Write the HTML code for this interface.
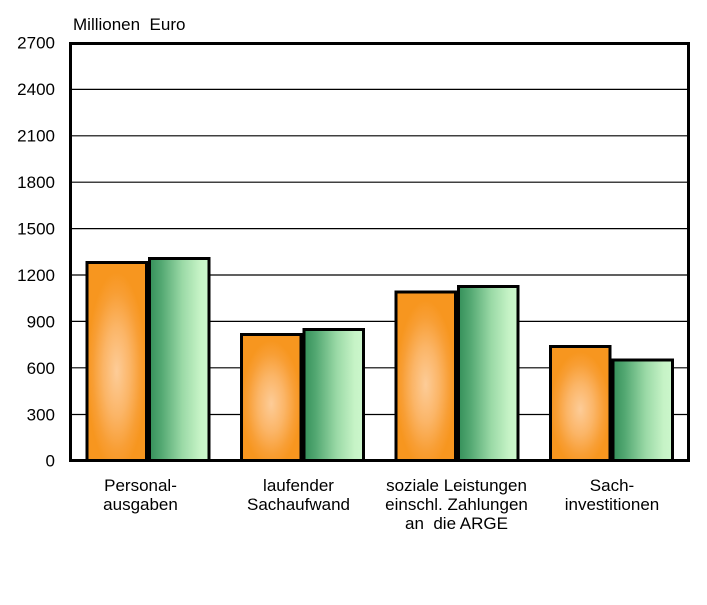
<!DOCTYPE html>
<html>
<head>
<meta charset="utf-8">
<style>
  html, body { margin: 0; padding: 0; background: #fff; }
  svg { display: block; }
  text { font-family: "Liberation Sans", Arial, sans-serif; fill: #000; }
</style>
</head>
<body>
<svg width="707" height="605" viewBox="0 0 707 605" xmlns="http://www.w3.org/2000/svg">
  <defs>
    <radialGradient id="og" cx="0.5" cy="0.55" r="0.5" fx="0.5" fy="0.55" gradientUnits="objectBoundingBox">
      <stop offset="0" stop-color="#fdcc98"/>
      <stop offset="0.45" stop-color="#fbb567"/>
      <stop offset="0.8" stop-color="#f89e34"/>
      <stop offset="1" stop-color="#f7961f"/>
    </radialGradient>
    <linearGradient id="gg" x1="0" y1="0" x2="1" y2="0">
      <stop offset="0" stop-color="#35905a"/>
      <stop offset="0.2" stop-color="#53a872"/>
      <stop offset="0.55" stop-color="#9ad9a6"/>
      <stop offset="0.85" stop-color="#c6f3c6"/>
      <stop offset="1" stop-color="#ccf7cc"/>
    </linearGradient>
  </defs>

  <rect x="0" y="0" width="707" height="605" fill="#fff"/>

  <!-- gridlines -->
  <g stroke="#000" stroke-width="1.2">
    <line x1="72" x2="687" y1="414.5" y2="414.5"/>
    <line x1="72" x2="687" y1="367.8" y2="367.8"/>
    <line x1="72" x2="687" y1="321.4" y2="321.4"/>
    <line x1="72" x2="687" y1="275" y2="275"/>
    <line x1="72" x2="687" y1="228.6" y2="228.6"/>
    <line x1="72" x2="687" y1="182.2" y2="182.2"/>
    <line x1="72" x2="687" y1="135.8" y2="135.8"/>
    <line x1="72" x2="687" y1="89.4" y2="89.4"/>
  </g>

  <!-- bars (outer edges measured; stroke 3) -->
  <g stroke="#000" stroke-width="3">
    <!-- group 1 -->
    <rect x="87" y="262.5" width="59.5" height="198" fill="url(#og)"/>
    <rect x="149.5" y="258.5" width="59.5" height="202" fill="url(#gg)"/>
    <!-- group 2 -->
    <rect x="241.5" y="334.5" width="59.5" height="126" fill="url(#og)"/>
    <rect x="304" y="329.5" width="59.5" height="131" fill="url(#gg)"/>
    <!-- group 3 -->
    <rect x="396" y="292" width="59.5" height="168.5" fill="url(#og)"/>
    <rect x="458.5" y="286.5" width="59.5" height="174" fill="url(#gg)"/>
    <!-- group 4 -->
    <rect x="550.5" y="346.5" width="59.5" height="114" fill="url(#og)"/>
    <rect x="613" y="360" width="59.5" height="100.5" fill="url(#gg)"/>
  </g>

  <!-- frame -->
  <rect x="70.5" y="43.5" width="618" height="417" fill="none" stroke="#000" stroke-width="3"/>

  <!-- title -->
  <text x="73" y="30" font-size="17" xml:space="preserve">Millionen  Euro</text>

  <!-- y tick labels -->
  <g font-size="17" text-anchor="end">
    <text x="55" y="48.5">2700</text>
    <text x="55" y="95">2400</text>
    <text x="55" y="141.5">2100</text>
    <text x="55" y="188">1800</text>
    <text x="55" y="234.5">1500</text>
    <text x="55" y="281">1200</text>
    <text x="55" y="327.5">900</text>
    <text x="55" y="374">600</text>
    <text x="55" y="420.5">300</text>
    <text x="55" y="466.5">0</text>
  </g>

  <!-- category labels -->
  <g font-size="17" text-anchor="middle">
    <text x="140.5" y="491">Personal-</text>
    <text x="140.5" y="510">ausgaben</text>

    <text x="298.5" y="491">laufender</text>
    <text x="298.5" y="510">Sachaufwand</text>

    <text x="456.5" y="491">soziale Leistungen</text>
    <text x="456.5" y="510">einschl. Zahlungen</text>
    <text x="456.5" y="529" xml:space="preserve">an  die ARGE</text>

    <text x="612" y="491">Sach-</text>
    <text x="612" y="510">investitionen</text>
  </g>
</svg>
</body>
</html>
